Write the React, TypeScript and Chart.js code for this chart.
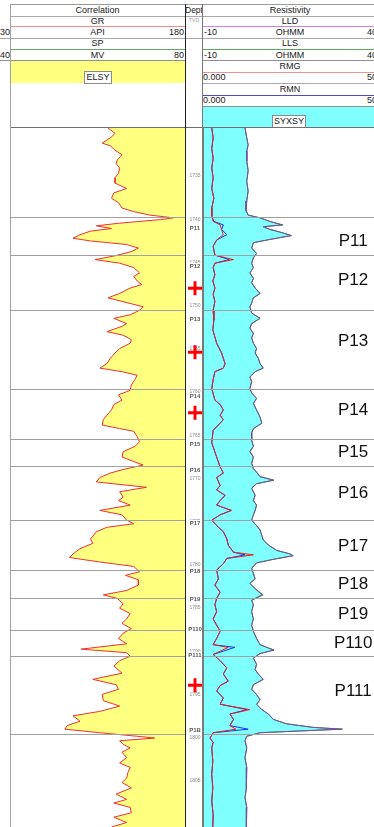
import React, { useEffect, useRef } from "react";
import { Chart, registerables } from "chart.js";

Chart.register(...registerables);

// ---------- depth axis ----------
const DEPTH_MIN = 1730.6;
const DEPTH_MAX = 1809.2;
const DEPTH_TICKS = [1735, 1740, 1745, 1750, 1755, 1760, 1765, 1770, 1775, 1780, 1785, 1790, 1795, 1800, 1805];

// ---------- GR (API) ----------
const GR_MIN = 30;
const GR_MAX = 180;
const GR_DEPTH = [
  1730.6, 1731.2, 1731.6, 1732.3, 1732.6, 1733.1, 1733.6, 1734.2, 1734.6, 1735.1, 1735.7, 1736.2, 1736.8, 1737.4, 1737.9,
  1738.5, 1739.0, 1739.6, 1740.0, 1740.4, 1740.7, 1740.9, 1741.3, 1741.6, 1741.9, 1742.2, 1742.6, 1743.0, 1743.3, 1743.7,
  1744.1, 1744.5, 1745.0, 1745.4, 1745.8, 1746.3, 1746.9, 1747.3, 1747.8, 1748.2, 1748.6, 1749.2, 1749.7, 1750.1, 1750.7,
  1751.1, 1751.6, 1752.0, 1752.6, 1752.9, 1753.5, 1753.9, 1754.4, 1754.8, 1755.4, 1755.9, 1756.5, 1757.1, 1757.6, 1758.0,
  1758.4, 1758.9, 1759.5, 1760.1, 1760.6, 1761.2, 1761.7, 1762.3, 1762.9, 1763.4, 1764.0, 1764.4, 1764.7, 1765.3, 1765.9,
  1766.4, 1767.0, 1767.6, 1768.1, 1768.5, 1769.0, 1769.4, 1769.9, 1770.4, 1771.0, 1771.5, 1772.1, 1772.5, 1773.0, 1773.6,
  1774.1, 1774.7, 1775.1, 1775.5, 1776.0, 1776.8, 1777.3, 1777.9, 1778.5, 1778.9, 1779.4, 1779.9, 1780.5, 1780.9, 1781.4,
  1782.0, 1782.6, 1783.1, 1783.5, 1784.1, 1784.6, 1785.2, 1785.8, 1786.3, 1786.9, 1787.4, 1788.0, 1788.6, 1789.2, 1789.6,
  1790.0, 1790.5, 1791.1, 1791.9, 1792.6, 1793.2, 1793.7, 1794.3, 1795.0, 1795.6, 1796.2, 1796.7, 1797.3, 1797.8, 1798.2,
  1798.6, 1799.0, 1799.2, 1799.5, 1799.9, 1800.3, 1800.8, 1801.4, 1802.0, 1802.5, 1803.1, 1803.7, 1804.2, 1804.8, 1805.5,
  1806.1, 1806.5, 1807.0, 1807.6, 1808.1, 1808.7, 1809.2,
];
const GR_API = [
  114, 120, 117, 109, 116, 120, 126, 122, 121, 124, 123, 120, 120, 130, 119,
  117, 123, 126, 136, 150, 170, 159, 124, 104, 117, 99, 90, 84, 99, 130,
  140, 134, 119, 103, 124, 136, 141, 136, 139, 143, 133, 124, 114, 126, 144,
  141, 133, 119, 130, 126, 113, 127, 134, 133, 124, 120, 116, 113, 107, 126,
  139, 137, 134, 133, 123, 126, 119, 117, 113, 110, 109, 124, 136, 139, 141,
  137, 127, 126, 136, 144, 127, 116, 107, 104, 147, 124, 127, 123, 133, 107,
  126, 130, 136, 113, 104, 99, 101, 90, 84, 81, 107, 136, 141, 129, 140,
  140, 130, 110, 122, 127, 124, 133, 130, 126, 134, 127, 123, 130, 91, 130,
  133, 124, 119, 126, 101, 121, 123, 109, 110, 124, 107, 84, 90, 79, 77,
  107, 139, 154, 124, 127, 133, 126, 130, 124, 133, 131, 130, 126, 134, 121,
  130, 119, 133, 134, 119, 130, 117,
];

// ---------- LLD / LLS (OHMM) ----------
const RES_MIN = -10;
const RES_MAX = 40;
const RES_DEPTH = [
  1730.6, 1731.7, 1732.5, 1733.2, 1734.3, 1735.4, 1736.6, 1737.7, 1738.8, 1739.9, 1740.4, 1740.7, 1741.1, 1741.5, 1741.7,
  1742.0, 1742.4, 1742.7, 1743.2, 1743.5, 1744.1, 1744.7, 1745.2, 1745.8, 1746.3, 1746.9, 1747.5, 1748.0, 1748.6, 1749.2,
  1749.7, 1750.3, 1750.7, 1751.4, 1752.0, 1752.6, 1753.1, 1753.7, 1754.2, 1754.8, 1755.4, 1755.9, 1756.5, 1757.1, 1757.6,
  1758.0, 1758.6, 1759.1, 1759.9, 1760.4, 1761.0, 1761.6, 1762.3, 1763.1, 1763.8, 1764.4, 1764.9, 1765.7, 1766.4, 1767.0,
  1767.6, 1768.3, 1768.9, 1769.3, 1769.8, 1770.2, 1770.6, 1771.1, 1771.9, 1772.5, 1773.0, 1773.6, 1774.1, 1774.7, 1775.3,
  1775.8, 1776.4, 1776.9, 1777.5, 1778.1, 1778.5, 1778.7, 1779.1, 1779.5, 1780.1, 1780.7, 1781.3, 1781.8, 1782.4, 1783.1,
  1783.7, 1784.2, 1785.0, 1785.8, 1786.5, 1787.2, 1788.0, 1788.7, 1789.0, 1789.3, 1789.7, 1790.2, 1790.9, 1791.5, 1792.0,
  1792.6, 1793.2, 1793.7, 1794.3, 1794.9, 1795.4, 1796.0, 1796.5, 1797.1, 1797.6, 1798.0, 1798.2, 1798.4, 1798.6, 1799.0,
  1799.5, 1800.3, 1801.4, 1802.5, 1803.7, 1804.8, 1805.9, 1807.0, 1808.1, 1809.2,
];
const LLD_OHMM = [
  2.0, 2.5, 2.9, 2.5, 2.5, 2.9, 2.5, 2.9, 2.5, 2.3, 2.9, 6.3, 9.1, 12.5, 7.2,
  9.1, 12.9, 15.3, 8.2, 4.4, 3.9, 5.3, 4.4, 3.9, 4.4, 3.4, 4.4, 3.9, 4.9, 6.3,
  4.4, 3.9, 3.4, 3.9, 6.3, 3.9, 3.4, 4.4, 3.9, 4.4, 5.3, 4.9, 5.8, 6.3, 7.2,
  4.9, 3.4, 3.9, 3.4, 3.9, 5.3, 4.4, 5.3, 6.3, 6.8, 4.4, 3.9, 3.9, 4.4, 3.4,
  4.4, 3.9, 4.4, 5.3, 6.3, 10.1, 5.3, 3.9, 4.9, 4.4, 5.3, 4.9, 4.4, 3.9, 5.3,
  6.3, 6.8, 7.2, 8.7, 11.1, 14.9, 15.8, 10.1, 5.3, 3.9, 4.4, 4.9, 3.4, 4.9, 6.8,
  3.9, 4.4, 3.9, 4.4, 3.9, 4.4, 5.3, 6.3, 8.2, 10.3, 6.3, 4.4, 5.3, 4.9, 5.8,
  7.2, 4.4, 3.9, 5.3, 6.3, 5.3, 6.8, 8.7, 10.1, 13.9, 21.5, 29.6, 17.7, 6.3, 2.5,
  2.0, 2.5, 2.0, 2.5, 2.3, 2.5, 2.0, 2.5, 2.3, 2.5,
];
const LLS_OHMM = [
  2.0, 2.5, 2.9, 2.5, 2.5, 2.9, 2.5, 2.9, 2.5, 2.3, 2.9, 6.3, 9.1, 12.9, 7.2,
  9.1, 12.9, 15.0, 8.2, 4.4, 3.9, 5.3, 4.4, 3.9, 4.4, 3.4, 4.4, 3.9, 4.9, 6.3,
  4.4, 3.9, 3.4, 3.9, 6.3, 3.9, 3.4, 4.4, 3.9, 4.4, 5.3, 4.9, 5.8, 6.3, 7.2,
  4.9, 3.4, 3.9, 3.4, 3.9, 5.3, 4.4, 5.3, 6.3, 6.8, 4.4, 3.9, 3.9, 4.4, 3.4,
  4.4, 3.9, 4.4, 5.3, 6.3, 10.3, 5.3, 3.9, 4.9, 4.4, 5.3, 4.9, 4.4, 3.9, 5.3,
  6.3, 6.8, 7.2, 8.7, 11.1, 14.9, 15.5, 10.1, 5.3, 3.9, 4.4, 4.9, 3.4, 4.9, 7.2,
  3.9, 4.4, 3.9, 4.4, 3.9, 4.4, 5.3, 6.3, 8.2, 10.3, 6.3, 4.4, 5.3, 4.9, 5.8,
  7.2, 4.4, 3.9, 5.3, 6.3, 5.3, 6.8, 8.7, 10.1, 13.9, 21.5, 29.9, 17.7, 6.3, 2.5,
  2.0, 2.5, 2.0, 2.5, 2.3, 2.5, 2.0, 2.5, 2.3, 2.5,
];

// ---------- RMG / RMN ----------
const RM_MIN = 0;
const RM_MAX = 50;
const RM_DEPTH = [
  1730.6, 1731.7, 1732.9, 1734.0, 1735.1, 1736.2, 1737.4, 1738.5, 1739.6, 1740.5, 1741.1, 1741.5, 1742.0, 1742.6, 1743.2,
  1743.9, 1744.9, 1745.4, 1745.8, 1746.3, 1747.1, 1747.8, 1748.6, 1749.3, 1750.1, 1751.1, 1752.2, 1753.3, 1754.8, 1755.9,
  1756.5, 1757.1, 1757.6, 1758.0, 1758.9, 1759.9, 1761.2, 1761.7, 1762.3, 1762.9, 1763.4, 1764.0, 1764.6, 1766.0, 1767.6,
  1768.7, 1769.4, 1769.9, 1770.8, 1771.3, 1771.9, 1772.5, 1773.0, 1773.6, 1774.1, 1774.7, 1775.3, 1776.0, 1776.8, 1777.5,
  1778.3, 1778.6, 1779.0, 1779.6, 1780.3, 1781.3, 1782.0, 1782.8, 1783.5, 1784.2, 1785.0, 1785.8, 1786.5, 1787.2, 1788.0,
  1788.7, 1789.0, 1789.8, 1790.5, 1791.3, 1792.0, 1792.8, 1793.3, 1793.9, 1794.7, 1795.4, 1796.0, 1796.5, 1797.1, 1797.8,
  1798.2, 1798.6, 1799.2, 1799.7, 1800.3, 1801.8, 1803.3, 1804.8, 1806.3, 1807.8, 1809.2,
];
const RMG_VAL = [
  2.5, 2.9, 2.5, 2.9, 2.5, 2.9, 2.5, 3.1, 2.5, 2.5, 2.9, 4.9, 5.3, 5.8, 3.9,
  2.9, 3.4, 8.7, 3.4, 2.9, 3.4, 2.8, 3.4, 2.9, 3.4, 2.9, 3.1, 2.8, 3.9, 5.3,
  5.8, 6.3, 5.8, 3.4, 2.9, 2.5, 3.4, 4.9, 5.8, 4.9, 5.8, 4.4, 2.9, 2.5, 3.9,
  4.9, 5.8, 3.9, 4.9, 3.9, 6.3, 4.9, 3.9, 8.2, 4.9, 2.5, 3.9, 5.8, 6.8, 7.2,
  8.7, 14.4, 6.8, 5.8, 3.9, 4.4, 3.4, 4.9, 3.9, 3.4, 3.9, 2.9, 3.9, 4.9, 3.9,
  2.9, 7.2, 2.9, 4.9, 6.8, 5.8, 7.2, 4.9, 3.9, 5.8, 4.9, 13.4, 7.7, 8.7, 7.7,
  9.4, 2.9, 2.0, 2.9, 2.5, 2.8, 2.5, 2.8, 2.5, 2.9, 2.8,
];
const RMN_VAL = [
  2.5, 2.9, 2.5, 2.9, 2.5, 2.9, 2.5, 3.1, 2.5, 2.5, 3.1, 5.8, 5.3, 6.8, 3.9,
  2.9, 3.4, 7.5, 3.4, 2.9, 3.4, 2.8, 3.4, 2.9, 3.4, 2.9, 3.1, 2.8, 3.9, 5.3,
  5.8, 6.3, 5.8, 3.4, 2.9, 2.5, 3.4, 4.9, 5.8, 4.9, 5.8, 4.4, 2.9, 2.5, 3.9,
  4.9, 5.8, 3.9, 4.9, 3.9, 6.3, 4.9, 3.9, 8.0, 4.9, 2.5, 3.9, 5.8, 6.8, 7.2,
  8.7, 12.0, 6.8, 5.8, 3.9, 4.4, 3.4, 4.9, 3.9, 3.4, 3.9, 2.9, 3.9, 4.9, 3.9,
  2.9, 9.1, 2.9, 4.9, 6.8, 5.8, 7.2, 4.9, 3.9, 5.8, 4.9, 12.5, 7.7, 8.7, 7.7,
  12.9, 2.9, 2.0, 2.9, 2.5, 2.8, 2.5, 2.8, 2.5, 2.9, 2.8,
];

// ---------- zones ----------
const ZONE_NAMES = ["P11", "P12", "P13", "P14", "P15", "P16", "P17", "P18", "P19", "P110", "P111", "P1B"];
const ZONE_TOPS = [1740.6, 1744.9, 1751.1, 1760.0, 1765.6, 1768.6, 1774.7, 1780.3, 1783.5, 1787.0, 1790.0, 1798.7];
const ZONE_LABEL_DEPTHS = [1743.3, 1747.7, 1754.6, 1762.4, 1767.1, 1771.7, 1777.6, 1781.9, 1785.3, 1788.5, 1793.9];
const ZONE_LABEL_X = 32.9; // OHMM position of the large zone names
const CROSS_DEPTHS = [1748.0, 1755.4, 1762.4, 1793.95];
const CROSS_X = 0.43;

const FONT = '"Liberation Sans", Arial, Helvetica, sans-serif';
const YELLOW = "#ffff80";
const CYAN = "#80ffff";
const ZONE_LINE = "#a0a0a0";

const pts = (ys: number[], xs: number[]) => ys.map((y, i) => ({ x: xs[i], y }));

const makeY = () => ({ type: "linear", min: DEPTH_MIN, max: DEPTH_MAX, reverse: true, display: false });

const baseOptions = (scales: any, extra: any = {}) => ({
  animation: false,
  responsive: false,
  maintainAspectRatio: false,
  events: [],
  layout: { padding: 0 },
  plugins: { legend: { display: false }, tooltip: { enabled: false } },
  scales,
  ...extra,
});

function drawZoneLines(chart: any) {
  const { ctx, chartArea, scales } = chart;
  ctx.save();
  ctx.strokeStyle = ZONE_LINE;
  ctx.lineWidth = 1;
  ZONE_TOPS.forEach((d) => {
    const py = Math.round(scales.y.getPixelForValue(d)) + 0.5;
    ctx.beginPath();
    ctx.moveTo(chartArea.left, py);
    ctx.lineTo(chartArea.right, py);
    ctx.stroke();
  });
  ctx.restore();
}

const zoneLinesPlugin = {
  id: "zoneLines",
  afterDatasetsDraw(chart: any) {
    drawZoneLines(chart);
  },
};

const depthTrackPlugin = {
  id: "depthTrack",
  beforeDatasetsDraw(chart: any) {
    const { ctx, scales } = chart;
    ctx.save();
    ctx.font = `5px ${FONT}`;
    ctx.fillStyle = "#8a8a8a";
    ctx.textAlign = "center";
    ctx.textBaseline = "middle";
    const cx = scales.x.getPixelForValue(0.5);
    DEPTH_TICKS.forEach((d) => ctx.fillText(String(d), cx, scales.y.getPixelForValue(d)));
    ctx.restore();
    drawZoneLines(chart);
    ctx.save();
    ctx.font = `bold 6px ${FONT}`;
    ctx.textAlign = "center";
    ctx.textBaseline = "middle";
    const tx = scales.x.getPixelForValue(0.7);
    ZONE_TOPS.forEach((d, i) => {
      const py = Math.round(scales.y.getPixelForValue(d));
      const w = ctx.measureText(ZONE_NAMES[i]).width;
      ctx.fillStyle = "#ffffff";
      ctx.fillRect(tx - w / 2 - 1, py + 1, w + 2, 7);
      ctx.fillStyle = "#5a5a5a";
      ctx.fillText(ZONE_NAMES[i], tx, py + 4.5);
    });
    ctx.restore();
  },
};

const zoneNamesPlugin = {
  id: "zoneNames",
  afterDatasetsDraw(chart: any) {
    drawZoneLines(chart);
    const { ctx, scales } = chart;
    ctx.save();
    ctx.font = `17px ${FONT}`;
    ctx.fillStyle = "#111111";
    ctx.textAlign = "center";
    ctx.textBaseline = "middle";
    const cx = scales.x.getPixelForValue(ZONE_LABEL_X);
    ZONE_LABEL_DEPTHS.forEach((d, i) => ctx.fillText(ZONE_NAMES[i], cx, scales.y.getPixelForValue(d)));
    ctx.restore();
  },
};

const abs = (s: any) => ({ position: "absolute", ...s });

function Txt({ x, y, w, h, a = "center", s = 9, c = "#1a1a1a", t }: any) {
  return (
    <div
      style={abs({
        left: x,
        top: y,
        width: w,
        height: h,
        lineHeight: h + "px",
        fontSize: s,
        color: c,
        textAlign: a,
        whiteSpace: "nowrap",
        overflow: "hidden",
        fontFamily: FONT,
      })}
    >
      {t}
    </div>
  );
}

function HL({ x, y, w, c = "#a8a8a8", t = 1 }: any) {
  return <div style={abs({ left: x, top: y, width: w, height: t, background: c })} />;
}
function VL({ x, y, h, c = "#a8a8a8", t = 1 }: any) {
  return <div style={abs({ left: x, top: y, width: t, height: h, background: c })} />;
}
function Box({ cx, y, h, t }: any) {
  return (
    <div style={abs({ left: cx - 30, top: y, width: 60, height: h, textAlign: "center" })}>
      <span
        style={{
          display: "inline-block",
          background: "#fff",
          border: "1px solid #8a8a8a",
          fontSize: 9,
          lineHeight: h - 2 + "px",
          height: h - 2,
          padding: "0 1px",
          fontFamily: FONT,
          color: "#1a1a1a",
        }}
      >
        {t}
      </span>
    </div>
  );
}

const PLOT_TOP = 128;
const PLOT_H = 699;

export default function App() {
  const grRef = useRef<HTMLCanvasElement>(null);
  const depthRef = useRef<HTMLCanvasElement>(null);
  const resRef = useRef<HTMLCanvasElement>(null);

  useEffect(() => {
    const charts: Chart[] = [];
    charts.push(
      new Chart(grRef.current as HTMLCanvasElement, {
        type: "line",
        data: {
          datasets: [
            {
              data: pts(GR_DEPTH, GR_API),
              borderColor: "#ee3030",
              borderWidth: 1,
              pointRadius: 0,
              tension: 0,
              fill: { value: GR_MAX },
              backgroundColor: YELLOW,
            },
          ],
        },
        options: baseOptions(
          { x: { type: "linear", min: GR_MIN, max: GR_MAX, display: false }, y: makeY() },
          { indexAxis: "y" }
        ) as any,
        plugins: [zoneLinesPlugin],
      })
    );
    charts.push(
      new Chart(depthRef.current as HTMLCanvasElement, {
        type: "line",
        data: {
          datasets: [
            {
              data: CROSS_DEPTHS.map((d) => ({ x: CROSS_X, y: d })),
              showLine: false,
              clip: false,
              pointStyle: "cross",
              pointRadius: 7,
              pointBorderWidth: 3,
              pointBorderColor: "#ff0000",
              pointBackgroundColor: "#ff0000",
              borderColor: "#ff0000",
              backgroundColor: "#ff0000",
            },
          ],
        },
        options: baseOptions(
          { x: { type: "linear", min: 0, max: 1, display: false }, y: makeY() },
          { indexAxis: "y" }
        ) as any,
        plugins: [depthTrackPlugin],
      })
    );
    charts.push(
      new Chart(resRef.current as HTMLCanvasElement, {
        type: "line",
        data: {
          datasets: [
            {
              label: "RMG",
              data: pts(RM_DEPTH, RMG_VAL),
              xAxisID: "x2",
              borderColor: "#e82020",
              borderWidth: 1,
              pointRadius: 0,
              fill: false,
              order: 1,
            },
            {
              label: "RMN",
              data: pts(RM_DEPTH, RMN_VAL),
              xAxisID: "x2",
              borderColor: "#2030e8",
              borderWidth: 1,
              pointRadius: 0,
              fill: false,
              order: 2,
            },
            {
              label: "LLD",
              data: pts(RES_DEPTH, LLD_OHMM),
              xAxisID: "x",
              borderColor: "#7a4aa8",
              borderWidth: 1,
              pointRadius: 0,
              fill: false,
              order: 3,
            },
            {
              label: "LLS",
              data: pts(RES_DEPTH, LLS_OHMM),
              xAxisID: "x",
              borderColor: "#30a030",
              borderWidth: 1,
              pointRadius: 0,
              fill: false,
              order: 4,
            },
            {
              label: "SYXSY",
              data: pts(RES_DEPTH, LLD_OHMM),
              xAxisID: "x",
              borderColor: "rgba(0,0,0,0)",
              borderWidth: 1,
              pointRadius: 0,
              fill: { value: RES_MIN },
              backgroundColor: CYAN,
              order: 5,
            },
          ],
        },
        options: baseOptions(
          {
            x: { type: "linear", axis: "x", position: "bottom", min: RES_MIN, max: RES_MAX, display: false },
            x2: { type: "linear", axis: "x", position: "top", min: RM_MIN, max: RM_MAX, display: false },
            y: makeY(),
          },
          { indexAxis: "y" }
        ) as any,
        plugins: [zoneNamesPlugin],
      })
    );
    return () => charts.forEach((c) => c.destroy());
  }, []);

  return (
    <div
      style={abs({
        left: 0,
        top: 0,
        width: 374,
        height: 827,
        overflow: "hidden",
        background: "#fff",
        fontFamily: FONT,
      })}
    >
      {/* ---------- header: correlation ---------- */}
      <HL x={10} y={4} w={370} c="#9a9a9a" />
      <Txt x={10} y={4} w={175} h={12} t="Correlation" />
      <HL x={10} y={16} w={175} />
      <Txt x={10} y={16} w={175} h={10} t="GR" />
      <HL x={10} y={26} w={175} c="#f28c8c" />
      <Txt x={0} y={27} w={185} h={11} a="left" t="30" />
      <Txt x={10} y={27} w={175} h={11} t="API" />
      <Txt x={10} y={27} w={174} h={11} a="right" t="180" />
      <HL x={0} y={38} w={185} />
      <Txt x={10} y={38} w={175} h={11} t="SP" />
      <HL x={10} y={49} w={175} c="#6aa86a" />
      <Txt x={0} y={50} w={185} h={10} a="left" t="40" />
      <Txt x={10} y={50} w={175} h={10} t="MV" />
      <Txt x={10} y={50} w={174} h={10} a="right" t="80" />
      <HL x={0} y={60} w={185} c="#909090" />
      <div style={abs({ left: 10, top: 61, width: 175, height: 22, background: YELLOW })} />
      <Box cx={98} y={66} h={13} t="ELSY" />

      {/* ---------- header: depth ---------- */}
      <Txt x={185} y={4} w={18} h={12} a="left" s={8.5} t="Depth" />
      <HL x={185} y={16} w={18} />
      <Txt x={185} y={17} w={18} h={7} s={5} c="#9a9a9a" t="TVD" />

      {/* ---------- header: resistivity ---------- */}
      <Txt x={203} y={4} w={174} h={12} t="Resistivity" />
      <HL x={203} y={16} w={174} />
      <Txt x={203} y={16} w={174} h={10} t="LLD" />
      <HL x={203} y={26} w={174} c="#cf7fe0" />
      <Txt x={204} y={27} w={173} h={11} a="left" t="-10" />
      <Txt x={203} y={27} w={174} h={11} t="OHMM" />
      <Txt x={203} y={27} w={174} h={11} a="right" t="40" />
      <HL x={185} y={38} w={192} />
      <Txt x={203} y={38} w={174} h={11} t="LLS" />
      <HL x={203} y={49} w={174} c="#5aa85a" />
      <Txt x={204} y={50} w={173} h={10} a="left" t="-10" />
      <Txt x={203} y={50} w={174} h={10} t="OHMM" />
      <Txt x={203} y={50} w={174} h={10} a="right" t="40" />
      <HL x={203} y={60} w={174} c="#909090" />
      <Txt x={203} y={61} w={174} h={11} t="RMG" />
      <HL x={203} y={72} w={174} c="#f09090" />
      <Txt x={203} y={72} w={173} h={11} a="left" t="0.000" />
      <Txt x={203} y={72} w={174} h={11} a="right" t="50" />
      <HL x={203} y={83} w={174} />
      <Txt x={203} y={84} w={174} h={11} t="RMN" />
      <HL x={203} y={95} w={174} c="#4a4ad0" />
      <Txt x={203} y={95} w={173} h={11} a="left" t="0.000" />
      <Txt x={203} y={95} w={174} h={11} a="right" t="50" />
      <HL x={203} y={106} w={174} c="#909090" />
      <div style={abs({ left: 203, top: 107, width: 174, height: 20, background: CYAN })} />
      <Box cx={289} y={110} h={13} t="SYXSY" />

      {/* ---------- plot canvases ---------- */}
      <canvas ref={grRef} width={175} height={PLOT_H} style={abs({ left: 10, top: PLOT_TOP, width: 175, height: PLOT_H })} />
      <canvas ref={depthRef} width={18} height={PLOT_H} style={abs({ left: 185, top: PLOT_TOP, width: 18, height: PLOT_H })} />
      <canvas ref={resRef} width={175} height={PLOT_H} style={abs({ left: 203, top: PLOT_TOP, width: 175, height: PLOT_H })} />

      {/* ---------- frame lines ---------- */}
      <HL x={10} y={127} w={370} c="#707070" />
      <VL x={10} y={4} h={823} c="#a0a0a0" />
      <VL x={185} y={4} h={823} c="#222222" />
      <VL x={202} y={4} h={124} c="#777777" />
      <VL x={202} y={128} h={699} c="#7a7a7a" t={2} />
    </div>
  );
}
